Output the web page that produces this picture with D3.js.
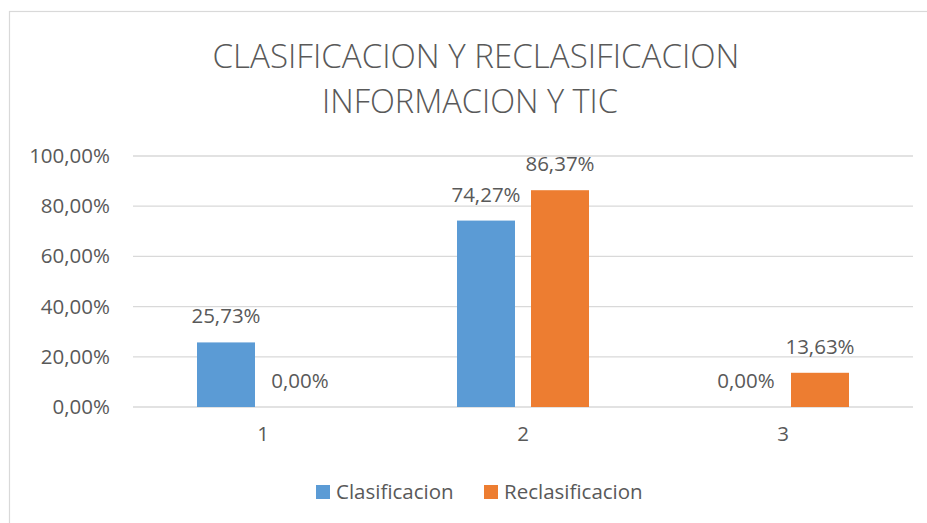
<!DOCTYPE html>
<html>
<head>
<meta charset="utf-8">
<script src="https://cdn.jsdelivr.net/npm/d3@7"></script>
<style>
  html, body { margin: 0; padding: 0; background: #fff; }
  svg { display: block; }
  text { font-family: "Open Sans", "Liberation Sans", sans-serif; fill: #595959; }
</style>
</head>
<body>
<svg id="chart" width="927" height="523"></svg>
<script>
// Categories, series and values
const categories = ["1", "2", "3"];
const seriesNames = ["Clasificacion", "Reclasificacion"];
const clasificacion = [0.2573, 0.7427, 0.0];
const reclasificacion = [0.0, 0.8637, 0.1363];
const yTicks = [0, 0.2, 0.4, 0.6, 0.8, 1.0];
const titleLines = ["CLASIFICACION Y RECLASIFICACION", "INFORMACION Y TIC"];
const colors = ["#5b9bd5", "#ed7d31"];

const seriesValues = [clasificacion, reclasificacion];

const svg = d3.select("#chart");

// Chart frame
svg.append("rect")
  .attr("x", 9.5).attr("y", 11.5)
  .attr("width", 940).attr("height", 530)
  .attr("fill", "#fff")
  .attr("stroke", "#d9d9d9")
  .attr("stroke-width", 1.2);

// Title
const titleWidths = [527, 296];
const titleCenters = [476, 470];
svg.selectAll("text.title")
  .data(titleLines)
  .join("text")
  .attr("class", "title")
  .attr("x", (d, i) => titleCenters[i])
  .attr("y", (d, i) => 68 + i * 45)
  .attr("text-anchor", "middle")
  .attr("font-size", 32.5)
  .attr("font-weight", 300)
  .attr("textLength", (d, i) => titleWidths[i])
  .attr("lengthAdjust", "spacingAndGlyphs")
  .text(d => d);

// Scales
const x = d3.scaleBand().domain(categories).range([133, 913]);
const y = d3.scaleLinear().domain([0, 1]).range([407, 156]);
const inner = d3.scaleBand().domain(seriesNames).range([-66, 66]).paddingInner(16 / 74);

const fmt = v => d3.format(".2f")(v * 100).replace(".", ",") + "%";

// Gridlines
svg.append("g")
  .selectAll("line")
  .data(yTicks)
  .join("line")
  .attr("x1", 133).attr("x2", 913)
  .attr("y1", d => y(d)).attr("y2", d => y(d))
  .attr("stroke", "#d9d9d9")
  .attr("stroke-width", 1.3);

// Y axis labels
const yAxis = d3.axisLeft(y).tickValues(yTicks).tickFormat(fmt).tickSize(0).tickPadding(0);
const yg = svg.append("g").attr("transform", "translate(110,0)").call(yAxis);
yg.select(".domain").remove();
yg.selectAll("text")
  .attr("font-size", 20.5)
  .attr("fill", "#595959")
  .attr("font-family", "'Open Sans', sans-serif");

// X axis labels
const xAxis = d3.axisBottom(x).tickSize(0).tickPadding(0);
const xg = svg.append("g").attr("transform", "translate(0,426)").call(xAxis);
xg.select(".domain").remove();
xg.selectAll("text")
  .attr("font-size", 20.5)
  .attr("fill", "#595959")
  .attr("font-family", "'Open Sans', sans-serif");

// Bars and value labels
seriesNames.forEach((name, si) => {
  const g = svg.append("g");
  const data = categories.map((c, ci) => ({ c, v: seriesValues[si][ci] }));
  g.selectAll("rect")
    .data(data)
    .join("rect")
    .attr("x", d => x(d.c) + x.bandwidth() / 2 + inner(name))
    .attr("y", d => y(d.v))
    .attr("width", inner.bandwidth())
    .attr("height", d => y(0) - y(d.v))
    .attr("fill", colors[si]);
  g.selectAll("text")
    .data(data)
    .join("text")
    .attr("x", d => x(d.c) + x.bandwidth() / 2 + inner(name) + inner.bandwidth() / 2)
    .attr("y", d => y(d.v) - 19)
    .attr("text-anchor", "middle")
    .attr("font-size", 20.5)
    .attr("fill", "#404040")
    .text(d => fmt(d.v));
});

// Legend
const legendX = [316, 484];
const legend = svg.append("g");
seriesNames.forEach((name, i) => {
  legend.append("rect")
    .attr("x", legendX[i]).attr("y", 485)
    .attr("width", 14).attr("height", 14)
    .attr("fill", colors[i]);
  legend.append("text")
    .attr("x", legendX[i] + 20).attr("y", 499)
    .attr("font-size", 20.5)
    .text(name);
});
</script>
</body>
</html>
